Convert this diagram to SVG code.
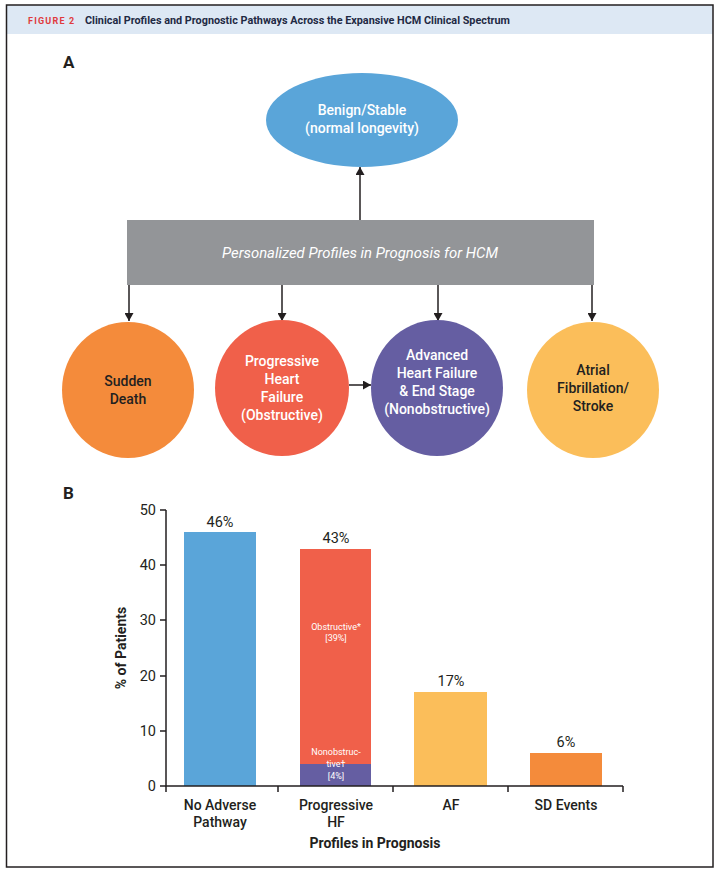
<svg xmlns="http://www.w3.org/2000/svg" width="721" height="872" viewBox="0 0 721 872">
<defs>
<style>
text{font-family:Roboto,"Noto Sans","Liberation Sans",sans-serif;}
.nt{font-size:14px;font-weight:500;text-anchor:middle;}
.w{fill:#ffffff;}
.d{fill:#231f20;}
.ax{stroke:#231f20;stroke-width:1.5;fill:none;}
.conn{stroke:#231f20;stroke-width:1.5;fill:none;marker-end:url(#ah);}
.val{font-size:14.5px;fill:#231f20;text-anchor:middle;}
.tick{font-size:14.5px;fill:#231f20;text-anchor:end;}
.xl{font-size:14px;font-weight:500;fill:#231f20;text-anchor:middle;}
.in{font-size:9px;fill:#ffffff;text-anchor:middle;}
</style>
<marker id="ah" markerWidth="8" markerHeight="9" refX="8" refY="4.5" orient="auto" markerUnits="userSpaceOnUse">
<path d="M0,0 L8,4.5 L0,9 Z" fill="#231f20"/>
</marker>
</defs>
<rect x="0" y="0" width="721" height="872" fill="#ffffff"/>
<rect x="6.5" y="5" width="706.5" height="29" fill="#dde8f4"/>
<rect x="6.5" y="5" width="706.5" height="862" fill="none" stroke="#231f20" stroke-width="1.5"/>
<text x="28" y="23.5" font-size="9" font-weight="700" fill="#e03a3e" letter-spacing="1.2">FIGURE 2</text>
<text x="85" y="23.5" font-size="10.5" font-weight="700" fill="#1f2a44" textLength="425" lengthAdjust="spacingAndGlyphs">Clinical Profiles and Prognostic Pathways Across the Expansive HCM Clinical Spectrum</text>
<text x="63" y="68" font-size="17" font-weight="700" fill="#231f20">A</text>
<text x="63" y="499" font-size="17" font-weight="700" fill="#231f20">B</text>

<g id="connectors">
<path class="conn" d="M360,220 V167"/>
<path class="conn" d="M129,285 V321"/>
<path class="conn" d="M282,285 V321"/>
<path class="conn" d="M438,285 V321"/>
<path class="conn" d="M592,285 V321"/>
<path class="conn" d="M349,385 H371"/>
</g>

<g id="benign">
<ellipse cx="362" cy="120" rx="96" ry="47" fill="#5aa5d9"/>
<text class="nt w" x="362" y="115">Benign/Stable</text>
<text class="nt w" x="362" y="133">(normal longevity)</text>
</g>
<g id="profiles">
<rect x="127" y="220" width="467" height="65" fill="#939598"/>
<text x="360" y="258" font-size="14.5" font-style="italic" fill="#ffffff" text-anchor="middle" textLength="276" lengthAdjust="spacingAndGlyphs">Personalized Profiles in Prognosis for HCM</text>
</g>
<g id="sudden-death">
<ellipse cx="128" cy="390" rx="66" ry="68" fill="#f48b3b"/>
<text class="nt d" x="128" y="386">Sudden</text>
<text class="nt d" x="128" y="404">Death</text>
</g>
<g id="progressive-hf">
<ellipse cx="282" cy="388" rx="67" ry="68" fill="#f0604a"/>
<text class="nt w" x="282" y="366">Progressive</text>
<text class="nt w" x="282" y="384">Heart</text>
<text class="nt w" x="282" y="402">Failure</text>
<text class="nt w" x="282" y="420">(Obstructive)</text>
</g>
<g id="advanced-hf">
<ellipse cx="437" cy="388" rx="66" ry="68" fill="#655ea2"/>
<text class="nt w" x="437" y="360">Advanced</text>
<text class="nt w" x="437" y="378">Heart Failure</text>
<text class="nt w" x="437" y="396">&amp; End Stage</text>
<text class="nt w" x="437" y="414">(Nonobstructive)</text>
</g>
<g id="atrial-fib">
<ellipse cx="593" cy="390" rx="66" ry="68" fill="#fbbe5a"/>
<text class="nt d" x="593" y="375">Atrial</text>
<text class="nt d" x="593" y="393">Fibrillation/</text>
<text class="nt d" x="593" y="411">Stroke</text>
</g>

<g id="chart">
<rect x="184" y="532" width="72" height="254" fill="#5aa5d9"/>
<rect x="300" y="549" width="71" height="215" fill="#f0604a"/>
<rect x="300" y="764" width="71" height="22" fill="#655ea2"/>
<rect x="414" y="692" width="73" height="94" fill="#fbbe5a"/>
<rect x="530" y="753" width="72" height="33" fill="#f48b3b"/>
<path class="ax" d="M166,510 V786 H623"/>
<path class="ax" d="M160,510 H166 M160,565 H166 M160,620 H166 M160,676 H166 M160,731 H166 M160,786 H166"/>
<path class="ax" d="M166,786 V792 M278,786 V792 M393,786 V792 M508,786 V792 M623,786 V792"/>
<text class="tick" x="156" y="515">50</text>
<text class="tick" x="156" y="570">40</text>
<text class="tick" x="156" y="625">30</text>
<text class="tick" x="156" y="681">20</text>
<text class="tick" x="156" y="736">10</text>
<text class="tick" x="156" y="791">0</text>
<text x="126" y="648" font-size="14" font-weight="700" fill="#231f20" text-anchor="middle" transform="rotate(-90 126 648)">% of Patients</text>
<text class="val" x="220" y="527">46%</text>
<text class="val" x="336" y="543">43%</text>
<text class="val" x="451" y="686">17%</text>
<text class="val" x="566" y="747">6%</text>
<text class="in" x="336" y="630">Obstructive*</text>
<text class="in" x="336" y="641">[39%]</text>
<text class="in" x="336" y="755">Nonobstruc-</text>
<text class="in" x="336" y="767">tive†</text>
<text class="in" x="336" y="779">[4%]</text>
<text class="xl" x="220" y="810">No Adverse</text>
<text class="xl" x="220" y="827">Pathway</text>
<text class="xl" x="336" y="810">Progressive</text>
<text class="xl" x="336" y="827">HF</text>
<text class="xl" x="451" y="810">AF</text>
<text class="xl" x="566" y="810">SD Events</text>
<text x="375" y="848" font-size="14" font-weight="700" fill="#231f20" text-anchor="middle">Profiles in Prognosis</text>
</g>
</svg>
